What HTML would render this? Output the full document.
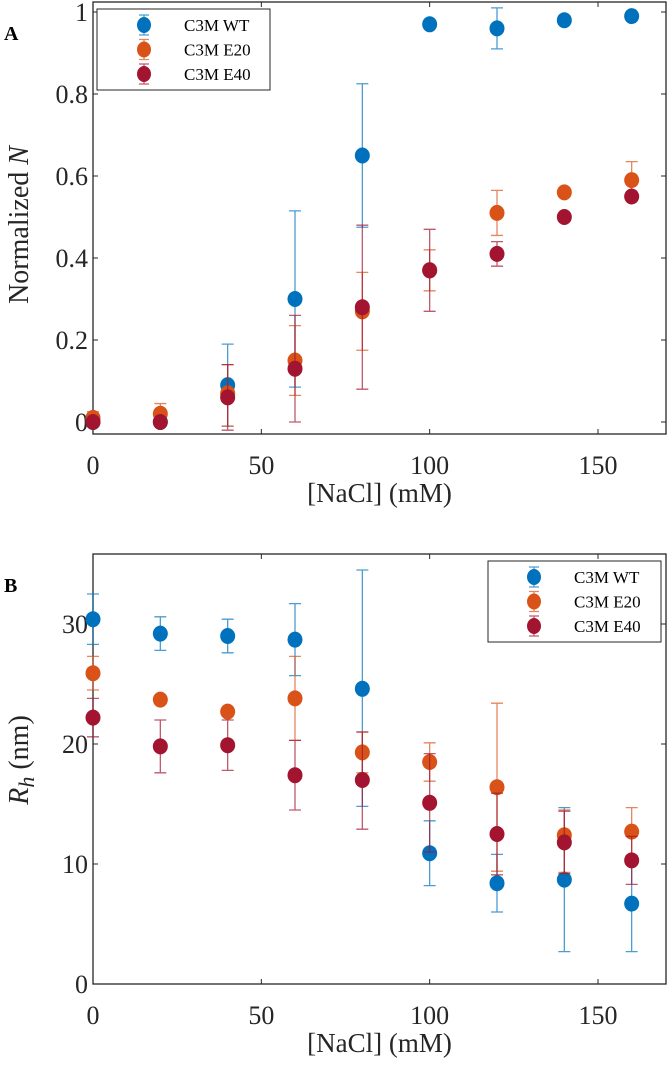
<!DOCTYPE html>
<html><head><meta charset="utf-8"><style>
html,body{margin:0;padding:0;background:#fff;}
svg{display:block;font-family:"Liberation Serif",serif;}
</style></head><body>
<svg id="fig" width="667" height="1065" viewBox="0 0 667 1065"></svg>
<script>
const xVals=[0,20,40,60,80,100,120,140,160];
const xTicks=[0,50,100,150];
const seriesNames=["C3M WT","C3M E20","C3M E40"];
const seriesColors=["#0072BD","#D95319","#A2142F"];
// Panel A: normalized N
const aWT=[0,0,0.09,0.30,0.65,0.97,0.96,0.98,0.99];
const aWTlo=[0,0,-0.01,0.085,0.475,0.96,0.91,0.97,0.985];
const aWThi=[0,0,0.19,0.515,0.825,0.98,1.01,0.99,0.995];
const aE20=[0.01,0.02,0.07,0.15,0.27,0.37,0.51,0.56,0.59];
const aE20lo=[-0.005,0.0,-0.01,0.065,0.175,0.32,0.455,0.555,0.545];
const aE20hi=[0.025,0.045,0.14,0.235,0.365,0.42,0.565,0.565,0.635];
const aE40=[0,0,0.06,0.13,0.28,0.37,0.41,0.50,0.55];
const aE40lo=[0,0,-0.02,0.0,0.08,0.27,0.38,0.495,0.545];
const aE40hi=[0,0,0.14,0.26,0.48,0.47,0.44,0.505,0.555];
const aYTicks=[0,0.2,0.4,0.6,0.8,1];
const aYLabels=["0","0.2","0.4","0.6","0.8","1"];
// Panel B: Rh
const bWT=[30.4,29.2,29.0,28.7,24.6,10.9,8.4,8.7,6.7];
const bWTlo=[28.3,27.8,27.6,25.7,14.8,8.2,6.0,2.7,2.7];
const bWThi=[32.5,30.6,30.4,31.7,34.5,13.6,10.8,14.7,10.7];
const bE20=[25.9,23.7,22.7,23.8,19.3,18.5,16.4,12.4,12.7];
const bE20lo=[24.5,23.4,22.4,20.3,17.6,16.9,9.4,9.3,10.7];
const bE20hi=[27.3,24.0,23.0,27.3,21.0,20.1,23.4,14.5,14.7];
const bE40=[22.2,19.8,19.9,17.4,17.0,15.1,12.5,11.8,10.3];
const bE40lo=[20.6,17.6,17.8,14.5,12.9,11.0,9.1,9.2,8.3];
const bE40hi=[23.8,22.0,22.0,20.3,21.0,19.2,15.9,14.4,12.3];
const bYTicks=[0,10,20,30];
const bYLabels=["0","10","20","30"];

const NS="http://www.w3.org/2000/svg";
const svg=document.getElementById('fig');
function mk(tag,attrs,parent){const e=document.createElementNS(NS,tag);for(const k in attrs)e.setAttribute(k,attrs[k]);(parent||svg).appendChild(e);return e;}

function panel(cfg){
  const g=mk('g',{});
  
  
  const L=93,R=666,T=cfg.top,B=cfg.bottom;
  const xs=v=>L+(v-0)*(598-93)/150;
  const ys=v=>cfg.y0+(v)*cfg.yk;
  // axes box
  const box=mk('rect',{x:L,y:T,width:R-L,height:B-T,fill:'none',stroke:'#262626','stroke-width':1.3},g);
  
  
  xTicks.forEach(t=>{
    const x=xs(t);
    mk('line',{x1:x,y1:B,x2:x,y2:B-5,stroke:'#262626'},g);
    mk('line',{x1:x,y1:T,x2:x,y2:T+5,stroke:'#262626'},g);
    const tx=mk('text',{x:x,y:B+40,'text-anchor':'middle','font-size':26,fill:'#262626'},g);
    tx.textContent=t;
    
    
  });
  cfg.yTicks.forEach((t,i)=>{
    const y=ys(t);
    mk('line',{x1:L,y1:y,x2:L+5,y2:y,stroke:'#262626'},g);
    mk('line',{x1:R,y1:y,x2:R-5,y2:y,stroke:'#262626'},g);
    const tx=mk('text',{x:L-5,y:y+9,'text-anchor':'end','font-size':26,fill:'#262626'},g);
    tx.textContent=cfg.yLabels[i];
    
    
  });
  const xl=mk('text',{x:(L+R)/2,y:B+68,'text-anchor':'middle','font-size':27,fill:'#262626'},g);
  xl.textContent='[NaCl] (mM)';
  
  
  const yl=mk('text',{x:0,y:0,'text-anchor':'middle','font-size':28,fill:'#262626',transform:`translate(${cfg.ylx},${cfg.yly}) rotate(-90)`},g);
  yl.innerHTML=cfg.ylabel;
  
  
  const pl=mk('text',{x:4,y:cfg.letterY,'font-size':20,'font-weight':'bold',fill:'#000'},g);
  pl.textContent=cfg.letter;
  
  
  // series
  cfg.series.forEach((s,si)=>{
    const sg=mk('g',{},g);
    
    
    const c=seriesColors[si];
    xVals.forEach((xv,i)=>{
      const x=xs(xv),ylo=ys(s.lo[i]),yhi=ys(s.hi[i]);
      const eb=mk('path',{d:`M${x},${ylo}V${yhi}M${x-6},${ylo}H${x+6}M${x-6},${yhi}H${x+6}`,stroke:c,'stroke-width':1.3,'stroke-opacity':0.7,fill:'none'},sg);
      
      
      const m=mk('ellipse',{cx:x,cy:ys(s.v[i]),rx:7.5,ry:8,fill:c},sg);
      
      
    });
  });
  // legend
  const lg=mk('g',{},g);
  
  
  const lb=cfg.legend;
  mk('rect',{x:lb.x,y:lb.y,width:lb.w,height:lb.h,fill:'#fff',stroke:'#262626','stroke-width':1},lg);
  seriesNames.forEach((n,i)=>{
    const y=lb.y+16+i*24.5;
    const le=mk('g',{},lg);
    
    
    mk('path',{d:`M${lb.mx},${y-10}V${y+10}M${lb.mx-5},${y-10}H${lb.mx+5}M${lb.mx-5},${y+10}H${lb.mx+5}`,stroke:seriesColors[i],'stroke-opacity':0.7,'stroke-width':1.3},le);
    mk('ellipse',{cx:lb.mx,cy:y,rx:7,ry:8,fill:seriesColors[i]},le);
    const t=mk('text',{x:lb.tx,y:y+6,'font-size':17,fill:'#000'},le);
    t.textContent=n;
  });
}

panel({name:'panel-a',top:2,bottom:434,y0:422,yk:-410,yTicks:aYTicks,yLabels:aYLabels,
  ylabel:'Normalized <tspan font-style="italic">N</tspan>',ylx:28,yly:225,letter:'A',letterY:40,
  series:[{v:aWT,lo:aWTlo,hi:aWThi},{v:aE20,lo:aE20lo,hi:aE20hi},{v:aE40,lo:aE40lo,hi:aE40hi}],
  legend:{x:97,y:9,w:173,h:81,mx:144,tx:184}});
panel({name:'panel-b',top:554,bottom:984,y0:984,yk:-12,yTicks:bYTicks,yLabels:bYLabels,
  ylabel:'<tspan font-style="italic">R</tspan><tspan font-style="italic" font-size="22" dy="6">h</tspan><tspan dy="-6"> (nm)</tspan>',ylx:28,yly:760,letter:'B',letterY:592,
  series:[{v:bWT,lo:bWTlo,hi:bWThi},{v:bE20,lo:bE20lo,hi:bE20hi},{v:bE40,lo:bE40lo,hi:bE40hi}],
  legend:{x:488,y:561,w:173,h:81,mx:534,tx:574}});
</script>
</body></html>
